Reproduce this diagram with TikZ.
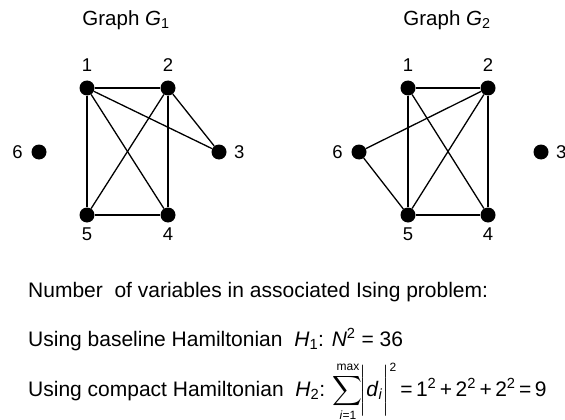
\documentclass[tikz,border=0pt]{standalone}
\usepackage{amsmath}
\usepackage{fontspec}
\setmainfont{Liberation Sans}
\begin{document}
\begin{tikzpicture}[
			x=1pt, y=-1pt,
			vertex/.style={
				circle, fill=black, draw=none,
				inner sep=0pt, minimum size=15pt
			},
			edge/.style={line width=1.3pt},
			num node/.style={font=\fontsize{18.5}{20}\selectfont},
			title node/.style={font=\fontsize{20.5}{22}\selectfont},
			text line/.style={anchor=base west, inner sep=0pt, font=\fontsize{21}{24}\selectfont}
			]
			\useasboundingbox (0,0) rectangle (565,420);
			
			\begin{scope}
				\node[title node] (t1) at (126,20) {Graph \textit{G}\textsubscript{1}};
				\node[vertex] (a1) at (87,88) {};
				\node[vertex] (a2) at (168,88) {};
				\node[vertex] (a3) at (219,152) {};
				\node[vertex] (a4) at (168,215) {};
				\node[vertex] (a5) at (87,215) {};
				\node[vertex] (a6) at (39,152) {};
				\draw[edge] (a1) -- (a2);
				\draw[edge] (a1) -- (a5);
				\draw[edge] (a1) -- (a4);
				\draw[edge] (a1) -- (a3);
				\draw[edge] (a2) -- (a5);
				\draw[edge] (a2) -- (a4);
				\draw[edge] (a2) -- (a3);
				\draw[edge] (a5) -- (a4);
				\node[num node, above=5pt] (l1) at (a1.north) {1};
				\node[num node, above=5pt] (l2) at (a2.north) {2};
				\node[num node, right=4pt] (l3) at (a3.east) {3};
				\node[num node, below=2pt] (l4) at (a4.south) {4};
				\node[num node, below=2pt] (l5) at (a5.south) {5};
				\node[num node, left=5pt] (l6) at (a6.west) {6};
			\end{scope}
			
			\begin{scope}[xshift=321pt]
				\node[title node] (t2) at (126,20) {Graph \textit{G}\textsubscript{2}};
				\node[vertex] (b1) at (87,88) {};
				\node[vertex] (b2) at (167,88) {};
				\node[vertex] (b3) at (220,152) {};
				\node[vertex] (b4) at (167,215) {};
				\node[vertex] (b5) at (87,215) {};
				\node[vertex] (b6) at (38,152) {};
				\draw[edge] (b1) -- (b2);
				\draw[edge] (b1) -- (b5);
				\draw[edge] (b1) -- (b4);
				\draw[edge] (b2) -- (b5);
				\draw[edge] (b2) -- (b4);
				\draw[edge] (b2) -- (b6);
				\draw[edge] (b6) -- (b5);
				\draw[edge] (b5) -- (b4);
				\node[num node, above=5pt] (m1) at (b1.north) {1};
				\node[num node, above=5pt] (m2) at (b2.north) {2};
				\node[num node, right=4pt] (m3) at (b3.east) {3};
				\node[num node, below=2pt] (m4) at (b4.south) {4};
				\node[num node, below=2pt] (m5) at (b5.south) {5};
				\node[num node, left=5pt] (m6) at (b6.west) {6};
			\end{scope}
			
			\node[text line] (s1) at (28,297) {Number \ of variables in associated Ising problem:};
			\node[text line] (s2) at (28,346) {Using baseline Hamiltonian \ \textit{H}\textsubscript{1}: \textit{N}\textsuperscript{2} = 36};
			\node[text line] (s3) at (28,396) {Using compact Hamiltonian \ \textit{H}\textsubscript{2}: $\displaystyle\sum_{\mbox{\fontsize{12}{12}\selectfont\textit{i}=1}}^{\mbox{\fontsize{12}{12}\selectfont max}}\!\biggl|\mbox{\textit{d}\textsubscript{\textit{i}}}\biggr|^{\mbox{\fontsize{12}{12}\selectfont 2}}$\,=\,1\textsuperscript{2}\,+\,2\textsuperscript{2}\,+\,2\textsuperscript{2}\,=\,9};
			
		\end{tikzpicture}
\end{document}
